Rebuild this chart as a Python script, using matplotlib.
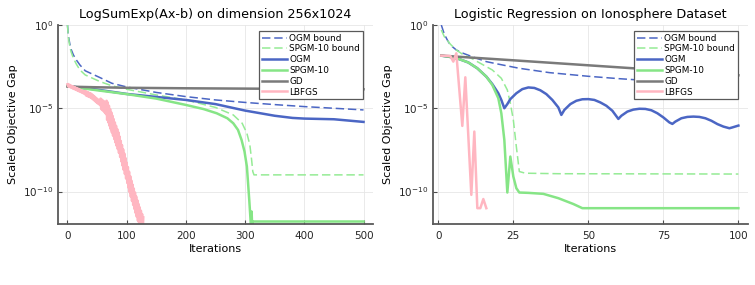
import numpy as np
import matplotlib
matplotlib.use("Agg")
import matplotlib.pyplot as plt

# ---------------- left panel: LogSumExp(Ax-b), values as log10 ----------------
ogm_bound_x = [0, 1, 2, 4, 6, 10, 15, 21, 30, 55, 75, 100, 150, 200, 250, 300, 350, 400, 450, 500]
ogm_bound_log = [0, -0.45, -0.75, -1.15, -1.45, -1.8, -2.1, -2.4, -2.75, -3.16, -3.5, -3.72,
                 -4.05, -4.3, -4.5, -4.65, -4.78, -4.9, -5.0, -5.1]

spgm_bound_x = [0, 1, 2, 4, 6, 10, 15, 21, 30, 55, 75, 100, 150, 200, 250, 280, 295, 303, 308,
                311, 313, 315, 400, 500]
spgm_bound_log = [0, -0.5, -0.85, -1.3, -1.6, -2.0, -2.35, -2.7, -3.0, -3.4, -3.65, -3.86, -4.2,
                  -4.5, -4.95, -5.4, -5.9, -6.5, -7.2, -8.1, -8.8, -9.0, -9.0, -9.0]

ogm_x = [0, 25, 50, 100, 150, 200, 250, 300, 350, 380, 400, 450, 500]
ogm_log = [-3.66, -3.78, -3.88, -4.14, -4.32, -4.5, -4.75, -5.14, -5.45, -5.58, -5.62, -5.66, -5.82]

spgm_x = [0, 25, 50, 100, 150, 200, 230, 252, 270, 280, 288, 294, 299, 303, 307, 309, 310,
          311, 312, 313, 500]
spgm_log = [-3.66, -3.8, -3.92, -4.15, -4.42, -4.8, -5.05, -5.3, -5.6, -5.9, -6.3, -6.9, -7.6,
            -8.5, -10.5, -11.6, -12.2, -11.2, -12.2, -11.8, -11.8]

gd_x = [0, 50, 100, 200, 300, 400, 500]
gd_log = [-3.7, -3.74, -3.77, -3.8, -3.82, -3.84, -3.86]

# LBFGS zigzags: high values on even iterations (0..128), low values on odd iterations (1..127)
lbfgs_hi = [-3.56, -3.57, -3.60, -3.64, -3.67, -3.70, -3.73, -3.77, -3.80, -3.83, -3.86, -3.90,
            -3.93, -3.96, -3.99, -3.97, -4.00, -4.03, -4.07, -4.10, -4.13, -4.19, -4.25, -4.31,
            -4.37, -4.43, -4.49, -4.54, -4.42, -4.48, -4.54, -4.60, -4.70, -4.55, -4.65, -4.85,
            -5.05, -5.25, -5.45, -5.65, -5.85, -6.05, -6.25, -6.45, -6.70, -6.96, -7.21, -7.47,
            -7.72, -7.99, -8.26, -8.53, -8.81, -9.08, -9.35, -9.59, -9.82, -10.06, -10.30,
            -10.53, -10.75, -10.95, -11.15, -11.35, -11.55]
lbfgs_lo = [-3.68, -3.71, -3.74, -3.77, -3.81, -3.84, -3.87, -3.90, -3.94, -3.97, -4.00, -4.03,
            -4.07, -4.10, -4.13, -4.22, -4.26, -4.29, -4.32, -4.35, -4.40, -4.46, -4.52, -4.58,
            -4.64, -4.70, -4.75, -4.81, -5.05, -5.11, -5.17, -5.25, -5.35, -5.70, -5.85, -6.05,
            -6.25, -6.45, -6.65, -6.85, -7.05, -7.25, -7.45, -7.68, -7.93, -8.19, -8.44, -8.70,
            -8.95, -9.22, -9.49, -9.77, -10.04, -10.31, -10.57, -10.81, -11.04, -11.28, -11.51,
            -11.75, -11.95, -12.15, -12.35, -12.55]

# ---------------- right panel: logistic regression on ionosphere ----------------
r_ogm_bound_x = [1, 2, 3, 4, 6, 8, 12, 16, 20, 27, 37, 50, 60, 75, 90, 100]
r_ogm_bound_log = [0, -0.55, -0.9, -1.2, -1.5, -1.68, -1.95, -2.2, -2.35, -2.6, -2.86, -3.08,
                   -3.22, -3.4, -3.55, -3.64]

r_spgm_bound_x = [1, 2, 4, 6, 8, 11, 14, 18, 21, 23, 24, 25, 26, 27, 29, 40, 100]
r_spgm_bound_log = [-0.3, -0.7, -1.15, -1.5, -1.75, -2.0, -2.3, -2.7, -3.2, -3.9, -4.7, -5.7,
                    -7.3, -8.8, -8.9, -8.93, -8.95]

r_ogm_x = [1, 4, 7, 10, 13, 16, 18, 20, 21, 22, 23, 24, 26, 28, 30, 32, 34, 36, 38, 40, 41, 42,
           44, 46, 48, 50, 52, 54, 56, 58, 60, 61, 63, 65, 67, 69, 71, 73, 75, 77, 78, 79, 81,
           83, 85, 87, 89, 91, 93, 95, 97, 98, 100]
r_ogm_log = [-1.84, -1.92, -2.05, -2.25, -2.6, -3.1, -3.55, -4.1, -4.5, -5.0, -4.75, -4.45,
             -4.1, -3.85, -3.75, -3.78, -3.92, -4.15, -4.5, -4.95, -5.4, -5.1, -4.75, -4.55,
             -4.46, -4.45, -4.5, -4.65, -4.85, -5.15, -5.64, -5.45, -5.2, -5.08, -5.03, -5.04,
             -5.12, -5.3, -5.55, -5.85, -5.94, -5.8, -5.6, -5.52, -5.5, -5.52, -5.6, -5.75,
             -5.95, -6.1, -6.2, -6.15, -6.04]

r_spgm_x = [1, 4, 7, 10, 13, 16, 18, 20, 21, 22, 23, 24, 25, 26, 27, 30, 35, 40, 45, 48, 100]
r_spgm_log = [-1.84, -1.92, -2.05, -2.25, -2.6, -3.1, -3.6, -4.4, -5.3, -6.9, -10.06, -7.9,
              -9.1, -9.8, -10.06, -10.08, -10.14, -10.4, -10.75, -11.0, -11.0]

r_gd_x = [1, 25, 50, 75, 100]
r_gd_log = [-1.84, -2.12, -2.42, -2.72, -3.02]

r_lbfgs_x = [1, 4, 5, 6, 8, 9, 11, 12, 13, 14, 15, 16]
r_lbfgs_log = [-1.84, -1.86, -2.2, -1.7, -6.06, -3.14, -10.2, -6.4, -11.0, -11.0, -10.45, -11.0]

labels = ["OGM bound", "SPGM-10 bound", "OGM", "SPGM-10", "GD", "LBFGS"]
c_blue = "#4b66c4"
c_green = "#86e586"
c_green_d = "#95eb95"
c_gray = "#7a7a7a"
c_pink = "#ffb6c1"


def lbfgs_zigzag(hi, lo):
    xs, ys = [], []
    for i in range(len(hi)):
        xs.append(2 * i)
        ys.append(hi[i])
        if i < len(lo):
            xs.append(2 * i + 1)
            ys.append(lo[i])
    return xs, ys


def style_axes(ax, title, xlim, xticks):
    ax.set_yscale("log")
    ax.set_ylim(10 ** -11.95, 1)
    ax.set_xlim(*xlim)
    ax.set_yticks([1e0, 1e-5, 1e-10])
    ax.yaxis.set_minor_locator(matplotlib.ticker.NullLocator())
    ax.set_xticks(xticks)
    ax.grid(True, color="#e6e6e6", lw=0.6)
    ax.set_axisbelow(True)
    for s in ["top", "right"]:
        ax.spines[s].set_visible(False)
    for s in ["left", "bottom"]:
        ax.spines[s].set_color("0.35")
        ax.spines[s].set_linewidth(1.3)
    ax.tick_params(direction="in", length=3, color="0.3", labelsize=7.5, labelcolor="0.15")
    ax.tick_params(axis="x", pad=5)
    ax.set_title(title, fontsize=9.2, pad=5)
    ax.set_xlabel("Iterations", fontsize=8, labelpad=2)
    ax.set_ylabel("Scaled Objective Gap", fontsize=8, labelpad=4)
    leg = ax.legend(labels, loc="upper right", bbox_to_anchor=(0.968, 0.97), fontsize=6.4,
                    frameon=True, fancybox=False, framealpha=1, edgecolor="0.35",
                    borderpad=0.3, labelspacing=0.2, handlelength=2.9, handletextpad=0.2,
                    borderaxespad=0)
    leg.get_frame().set_linewidth(0.9)


def pw(v):
    return 10 ** np.array(v, dtype=float)


fig = plt.figure(figsize=(7.55, 2.85), dpi=100)
ax1 = fig.add_axes([58.3 / 755, 1 - 224 / 285, 314.4 / 755, 199 / 285])
ax2 = fig.add_axes([433.3 / 755, 1 - 224 / 285, 314.4 / 755, 199 / 285])

dash = (5.5, 2.5)
lx, ly = lbfgs_zigzag(lbfgs_hi, lbfgs_lo)

ax1.plot(ogm_bound_x, pw(ogm_bound_log), color=c_blue, lw=1.1, dashes=dash)
ax1.plot(spgm_bound_x, pw(spgm_bound_log), color=c_green_d, lw=1.1, dashes=dash)
ax1.plot(ogm_x, pw(ogm_log), color=c_blue, lw=1.8)
ax1.plot(spgm_x, pw(spgm_log), color=c_green, lw=1.8)
ax1.plot(gd_x, pw(gd_log), color=c_gray, lw=1.8)
ax1.plot(lx, pw(ly), color=c_pink, lw=1.8)
style_axes(ax1, "LogSumExp(Ax-b) on dimension 256x1024", (-15.5, 515.5), [0, 100, 200, 300, 400, 500])

ax2.plot(r_ogm_bound_x, pw(r_ogm_bound_log), color=c_blue, lw=1.1, dashes=dash)
ax2.plot(r_spgm_bound_x, pw(r_spgm_bound_log), color=c_green_d, lw=1.1, dashes=dash)
ax2.plot(r_ogm_x, pw(r_ogm_log), color=c_blue, lw=1.8)
ax2.plot(r_spgm_x, pw(r_spgm_log), color=c_green, lw=1.8)
ax2.plot(r_gd_x, pw(r_gd_log), color=c_gray, lw=1.8)
ax2.plot(r_lbfgs_x, pw(r_lbfgs_log), color=c_pink, lw=1.8)
style_axes(ax2, "Logistic Regression on Ionosphere Dataset", (-1.67, 103.1), [0, 25, 50, 75, 100])

fig.savefig("out.png", dpi=100)
